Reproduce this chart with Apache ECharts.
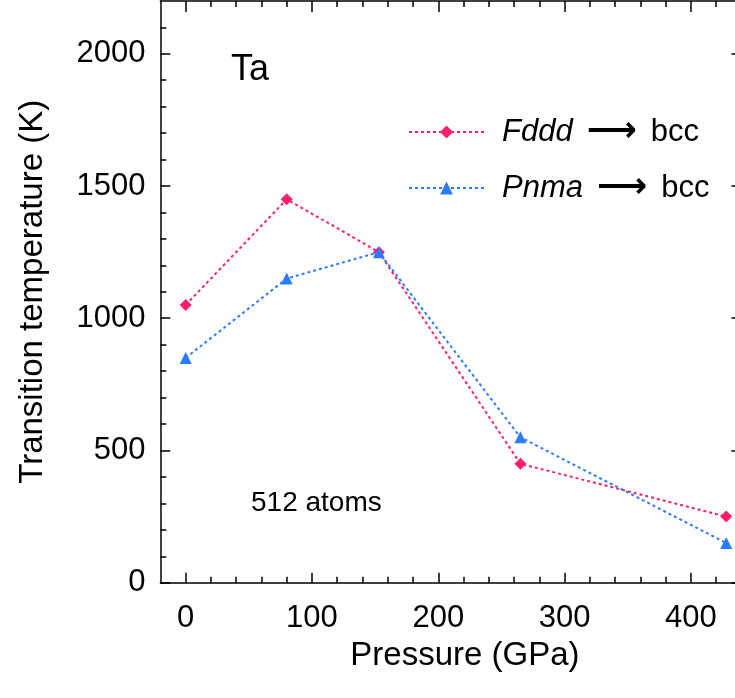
<!DOCTYPE html>
<html>
<head>
<meta charset="utf-8">
<title>Ta transition temperature</title>
<script src="https://cdn.jsdelivr.net/npm/echarts@6/dist/echarts.min.js"></script>
<style>
  html, body { margin: 0; padding: 0; background: #fff; }
  #chart { width: 735px; height: 698px; }
</style>
</head>
<body>
<div id="chart"></div>
<script>
// Pressure (GPa) and transition temperature (K) for each starting phase
const pressureFddd = [0, 80, 153, 265, 428];
const tempFddd = [1050, 1450, 1250, 450, 250];
const pressurePnma = [0, 80, 153, 265, 428];
const tempPnma = [850, 1150, 1250, 550, 150];

// Tick positions
const xMajorTicks = [0, 100, 200, 300, 400];
const xMinorTicks = [20, 40, 60, 80, 120, 140, 160, 180, 220, 240, 260, 280, 320, 340, 360, 380, 420];
const yMajorTicks = [0, 500, 1000, 1500, 2000];
const yMinorTicks = [100, 200, 300, 400, 600, 700, 800, 900, 1100, 1200, 1300, 1400, 1600, 1700, 1800, 1900, 2100];

const X_MIN = -20, X_MAX = 440, Y_MIN = 0, Y_MAX = 2200;
const FONT = '"Liberation Sans", Arial, sans-serif';
const PINK = '#ff1f6f';
const BLUE = '#2a7bff';

const pairs = (xs, ys) => xs.map((x, i) => [x, ys[i]]);

function xAxisDef(position, ticks, len, withLabels, withLine) {
  return {
    type: 'value', position, min: X_MIN, max: X_MAX,
    axisLine: { show: withLine, onZero: false, lineStyle: { color: '#000', width: 1.5 } },
    axisTick: { show: true, inside: true, length: len, customValues: ticks,
                lineStyle: { color: '#000', width: 1.5 } },
    axisLabel: withLabels
      ? { show: true, customValues: ticks, color: '#000', fontSize: 31, fontFamily: FONT, margin: 20,
          formatter: (v) => String(v) }
      : { show: false },
    splitLine: { show: false }
  };
}
function yAxisDef(position, ticks, len, withLabels, withLine) {
  return {
    type: 'value', position, min: Y_MIN, max: Y_MAX,
    axisLine: { show: withLine, onZero: false, lineStyle: { color: '#000', width: 1.5 } },
    axisTick: { show: true, inside: true, length: len, customValues: ticks,
                lineStyle: { color: '#000', width: 1.5 } },
    axisLabel: withLabels
      ? { show: true, customValues: ticks, color: '#000', fontSize: 31, fontFamily: FONT, margin: 15,
          formatter: (v) => String(v) }
      : { show: false },
    splitLine: { show: false }
  };
}

const xMain = xAxisDef('bottom', xMajorTicks, 10, true, true);
Object.assign(xMain, {
  name: 'Pressure (GPa)', nameLocation: 'middle', nameGap: 57,
  nameTextStyle: { color: '#000', fontSize: 33, fontFamily: FONT, padding: [0, 0, 0, 28] }
});
const yMain = yAxisDef('left', yMajorTicks, 10, true, true);
Object.assign(yMain, {
  name: 'Transition temperature (K)', nameLocation: 'middle', nameGap: 111,
  nameTextStyle: { color: '#000', fontSize: 33, fontFamily: FONT }
});

const lineDot = (color) => ({ color, width: 2, type: [3, 3] });

// Invisible copies of the data keep the tick-only axes (minor ticks, top and right frame) populated
const tickCarrier = (idx) => ({
  name: '_frame' + idx, type: 'line', xAxisIndex: idx, yAxisIndex: idx,
  data: pairs(pressureFddd, tempFddd), symbol: 'none', silent: true,
  lineStyle: { opacity: 0 }, z: 0
});

const option = {
  animation: false,
  backgroundColor: '#fff',
  grid: { left: 160.4, top: 0.9, width: 581, height: 581.8, outerBoundsMode: 'none', containLabel: false },
  xAxis: [
    xMain,
    xAxisDef('bottom', xMinorTicks, 6, false, false),
    xAxisDef('top', xMajorTicks, 11, false, true),
    xAxisDef('top', xMinorTicks, 6, false, false)
  ],
  yAxis: [
    yMain,
    yAxisDef('left', yMinorTicks, 6, false, false),
    yAxisDef('right', yMajorTicks, 10, false, true),
    yAxisDef('right', yMinorTicks, 6, false, false)
  ],
  legend: {
    orient: 'vertical', left: 408, top: 114, padding: 0,
    itemWidth: 75, itemHeight: 16, itemGap: 20,
    selectedMode: false,
    data: ['Fddd', 'Pnma'],
    formatter: (name) => `{g|}{it|${name}}{ar|⟶}{t|bcc}`,
    textStyle: {
      color: '#000', fontFamily: FONT, fontSize: 31, lineHeight: 36,
      rich: {
        g: { width: 13, height: 36 },
        it: { fontStyle: 'italic', fontSize: 31, fontFamily: FONT, color: '#000', lineHeight: 36, padding: [0, 14, 0, 0] },
        ar: { fontSize: 35, fontWeight: 'bold', fontFamily: '"DejaVu Sans", sans-serif', color: '#000', lineHeight: 36, padding: [0, 14, 0, 0] },
        t: { fontSize: 31, fontFamily: FONT, color: '#000', lineHeight: 36 }
      }
    }
  },
  graphic: [
    { type: 'text', left: 231, top: 52,
      style: { text: 'Ta', fontSize: 36, fontFamily: FONT, fill: '#000' } },
    { type: 'text', left: 251, top: 489,
      style: { text: '512 atoms', fontSize: 28, fontFamily: FONT, fill: '#000' } }
  ],
  series: [
    {
      name: 'Fddd', type: 'line', xAxisIndex: 0, yAxisIndex: 0,
      data: pairs(pressureFddd, tempFddd),
      symbol: 'diamond', symbolSize: 12,
      itemStyle: { color: PINK }, lineStyle: lineDot(PINK), z: 3
    },
    {
      name: 'Pnma', type: 'line', xAxisIndex: 0, yAxisIndex: 0,
      data: pairs(pressurePnma, tempPnma),
      symbol: 'triangle', symbolSize: 12,
      itemStyle: { color: BLUE }, lineStyle: lineDot(BLUE), z: 4
    },
    tickCarrier(1), tickCarrier(2), tickCarrier(3)
  ]
};

const chart = echarts.init(document.getElementById('chart'), null, { renderer: 'canvas' });
chart.setOption(option);
</script>
</body>
</html>
